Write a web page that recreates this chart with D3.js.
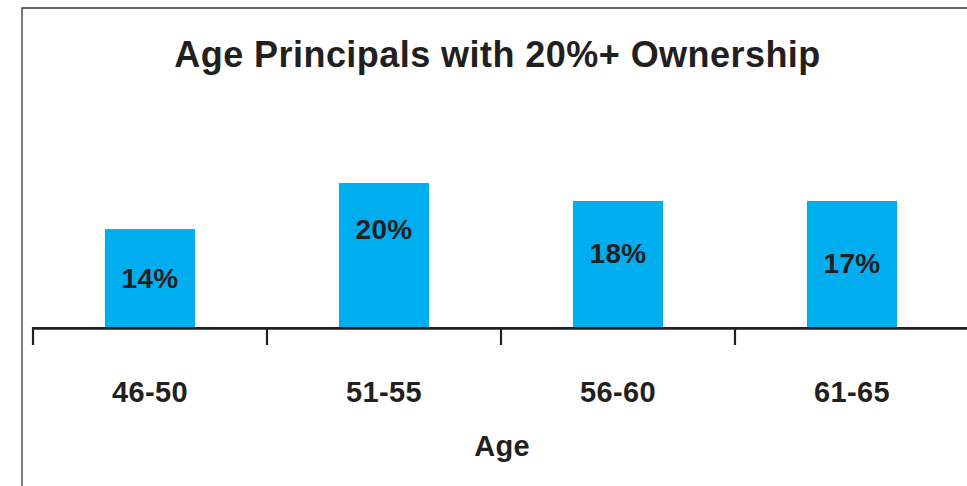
<!DOCTYPE html>
<html>
<head>
<meta charset="utf-8">
<script src="https://cdn.jsdelivr.net/npm/d3@7"></script>
<style>
  html, body { margin: 0; padding: 0; background: #fff; }
  svg { display: block; }
  text { font-family: "Liberation Sans", Arial, Helvetica, sans-serif; font-weight: bold; fill: #231f20; }
</style>
</head>
<body>
<svg id="chart" width="967" height="486"></svg>
<script>
// ---- data ----
const categories = ["46-50", "51-55", "56-60", "61-65"];
const values = [13.6, 20.0, 17.5, 17.5];
const valueLabels = ["14%", "20%", "18%", "17%"];
const chartTitle = "Age Principals with 20%+ Ownership";
const xTitle = "Age";

// ---- layout constants ----
const labelDrop = [59, 56, 61.5, 71.5]; // px below bar top for value label baseline
const W = 967, H = 486;
const ink = "#231f20";
const barColor = "#00adef";

const svg = d3.select("#chart");

// frame lines
svg.append("line").attr("x1", 22).attr("x2", 22).attr("y1", 7.5).attr("y2", H)
  .attr("stroke", "#333").attr("stroke-width", 1.3);
svg.append("line").attr("x1", 22).attr("x2", W).attr("y1", 8).attr("y2", 8)
  .attr("stroke", "#333").attr("stroke-width", 1.3);

const x = d3.scaleBand().domain(categories).range([33, 33 + 4 * 234]).paddingInner(0.615).paddingOuter(0.3075);
const y = d3.scaleLinear().domain([0, 20]).range([327, 183]);

// bars
svg.append("g").selectAll("rect").data(values).join("rect")
  .attr("x", (d, i) => x(categories[i]))
  .attr("y", d => y(d))
  .attr("width", x.bandwidth())
  .attr("height", d => y(0) - y(d))
  .attr("fill", barColor);

// value labels
svg.append("g").selectAll("text").data(values).join("text")
  .attr("x", (d, i) => x(categories[i]) + x.bandwidth() / 2)
  .attr("y", (d, i) => y(d) + labelDrop[i])
  .attr("text-anchor", "middle")
  .attr("font-size", 28)
  .attr("letter-spacing", 0.3)
  .text((d, i) => valueLabels[i]);

// axis line
svg.append("line").attr("x1", 32).attr("x2", W).attr("y1", y(0) + 1.3).attr("y2", y(0) + 1.3)
  .attr("stroke", ink).attr("stroke-width", 2.7);

// ticks at band boundaries
const tickPos = categories.map(c => x(c) - x.step() * x.paddingOuter());
svg.append("g").selectAll("line").data(tickPos).join("line")
  .attr("x1", d => d).attr("x2", d => d)
  .attr("y1", y(0)).attr("y2", 345)
  .attr("stroke", ink).attr("stroke-width", 2.2);

// category labels
svg.append("g").selectAll("text").data(categories).join("text")
  .attr("x", d => x(d) + x.bandwidth() / 2)
  .attr("y", 401.5)
  .attr("text-anchor", "middle")
  .attr("font-size", 29)
  .attr("letter-spacing", 0.4)
  .text(d => d);

// x title
svg.append("text").attr("x", 502).attr("y", 456).attr("text-anchor", "middle")
  .attr("font-size", 29).attr("letter-spacing", 0.3).text(xTitle);

// chart title
svg.append("text").attr("x", 497.5).attr("y", 66.5).attr("text-anchor", "middle")
  .attr("font-size", 36).attr("letter-spacing", 0.45).text(chartTitle);
</script>
</body>
</html>
